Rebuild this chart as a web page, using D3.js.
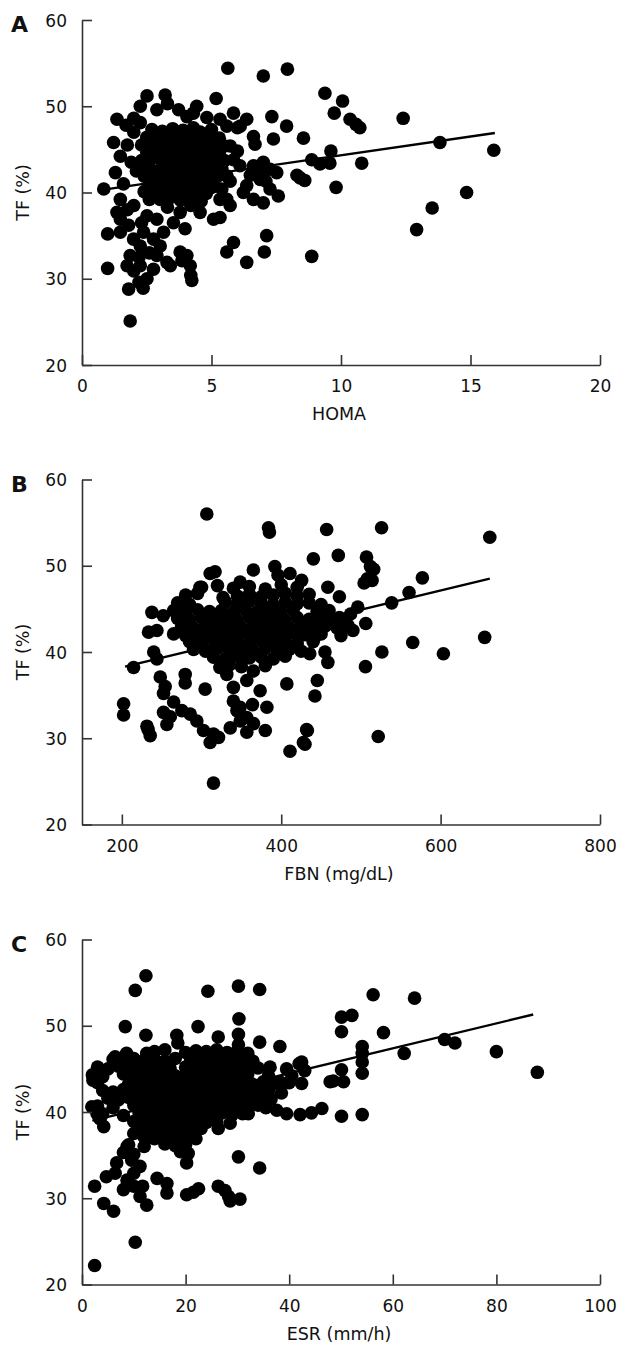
<!DOCTYPE html>
<html>
<head>
<meta charset="utf-8">
<script src="https://cdn.jsdelivr.net/npm/d3@7"></script>
<style>
  html, body { margin: 0; padding: 0; background: #fff; }
  svg text { font-family: "DejaVu Sans", Verdana, sans-serif; fill: #111; }
</style>
</head>
<body>
<script>
// ---------------- DATA ----------------
const panelLetters = ["A", "B", "C"];
const xTitles = ["HOMA", "FBN (mg/dL)", "ESR (mm/h)"];
const yTitle = "TF (%)";
const yTicks = [20, 30, 40, 50, 60];
const xDomainA = [0, 20], xTicksA = [0, 5, 10, 15, 20];
const xDomainB = [150, 800], xTicksB = [200, 400, 600, 800];
const xDomainC = [0, 100], xTicksC = [0, 20, 40, 60, 80, 100];

// Panel A: HOMA vs TF (%)
const pointsA = [
  [5.63,54.4],[7.0,53.5],[7.93,54.3],[5.18,50.9],[0.84,40.4],[0.99,35.2],[0.99,31.2],[1.86,25.1],[1.8,28.8],[2.36,28.9],
  [4.24,29.8],[4.2,30.4],[3.98,32.7],[5.59,33.1],[5.85,34.2],[6.36,31.9],[7.04,33.1],[7.13,35.0],[8.87,32.6],[8.55,46.3],
  [7.33,48.8],[7.9,47.7],[7.39,46.2],[6.62,46.5],[6.68,45.6],[8.42,41.7],[8.3,42.0],[8.87,43.8],[7.58,39.6],[7.0,38.8],
  [5.72,38.5],[5.59,39.2],[5.08,36.9],[5.33,37.1],[5.72,41.3],[5.85,49.2],[6.36,48.5],[6.0,47.5],
  [9.38,51.5],[10.06,50.6],[9.74,49.2],[10.35,48.5],[10.58,47.9],[10.73,47.5],[12.4,48.6],[9.61,44.8],[9.19,43.3],[9.57,43.4],
  [10.8,43.4],[13.82,45.8],[15.9,44.9],[9.81,40.6],[14.85,40.0],[13.52,38.2],[12.92,35.7],[8.6,41.4],
  [4.43,50.0],[4.3,49.2],[4.05,48.8],[2.51,51.2],[3.21,51.3],[2.89,49.6],[3.3,50.3],[3.73,49.6],[2.25,50.0],[1.35,48.5],
  [2.0,48.6],[1.7,47.8],[2.25,48.1],[2.0,47.0],[1.22,45.8],[1.29,42.3],[1.48,44.2],[1.75,45.5],[1.9,43.5],[2.1,42.5],
  [2.38,42.3],[1.6,41.0],
  [4.82,48.7],[5.33,48.5],[5.59,47.7],[6.11,47.7],[5.0,47.3],[4.56,47.0],[5.72,45.4],[5.85,43.8],[6.1,43.1],[6.0,44.8],
  [4.56,37.7],[4.2,38.5],[3.79,37.7],[3.53,36.5],[3.98,35.8],[3.02,39.2],[3.3,38.3],
  [1.48,39.2],[1.35,37.7],[1.48,36.9],[1.8,36.2],[1.48,35.4],[1.99,34.6],[2.25,33.8],[1.86,32.7],[1.74,31.5],[2.0,30.9],
  [2.25,31.5],[2.51,30.0],[2.76,31.1],[2.89,32.7],[3.02,33.8],[3.28,31.9],[3.41,31.5],[3.15,35.4],[2.76,34.6],[2.38,35.4],
  [2.51,37.3],[2.89,36.9],[2.2,29.6],[2.0,38.5],[1.75,38.0],[2.3,36.5],[2.6,33.0],[2.2,32.5],
  [3.79,33.1],[4.05,32.7],[4.18,31.5],[3.86,32.1],
  [5.08,41.2],[5.33,39.2],[5.4,40.4],[6.62,43.1],[7.0,43.5],[7.26,42.7],[7.52,42.3],[6.88,41.5],[6.36,40.8],[6.23,40.0],
  [6.62,39.2],[7.26,40.4],[6.9,42.5],[7.1,41.3],[6.5,42.0],
  [2.7,47.3],[3.1,47.1],[3.5,47.4],[3.9,47.2],[4.3,47.5],
  [2.5,46.4],[2.9,46.6],[3.3,46.3],[3.7,46.5],[4.1,46.4],[4.5,46.2],[4.9,46.5],[5.3,46.3],
  [2.3,45.5],[2.7,45.3],[3.1,45.6],[3.5,45.4],[3.9,45.6],[4.3,45.5],[4.7,45.3],[5.1,45.6],[5.5,45.4],
  [2.5,44.6],[2.9,44.4],[3.3,44.7],[3.7,44.5],[4.1,44.6],[4.5,44.8],[4.9,44.5],[5.3,44.6],
  [2.3,43.7],[2.7,43.9],[3.1,43.6],[3.5,43.8],[3.9,43.7],[4.3,43.5],[4.7,43.8],[5.1,43.6],[5.5,43.7],
  [2.6,42.8],[3.0,42.6],[3.4,42.9],[3.8,42.7],[4.2,42.8],[4.6,42.6],[5.0,42.9],[5.4,42.7],
  [2.4,41.9],[2.8,41.7],[3.2,42.0],[3.6,41.8],[4.0,41.9],[4.4,41.7],[4.8,42.0],[5.2,41.8],[5.6,41.9],
  [2.6,41.0],[3.0,40.8],[3.4,41.1],[3.8,40.9],[4.2,41.0],[4.6,40.8],[5.0,40.6],
  [2.4,40.1],[2.8,40.3],[3.2,39.9],[3.6,40.2],[4.0,40.0],[4.4,40.2],[4.8,39.9],
  [2.6,39.2],[3.4,39.4],[3.8,39.1],[4.2,39.3],[4.6,39.0]
];
const fitA = [[0.84, 40.33], [15.94, 46.9]];

// Panel B: FBN (mg/dL) vs TF (%)
const pointsB = [
  [306.6,56.0],[385.2,53.9],[384,54.4],[214.7,38.2],[202.2,34.0],[202.2,32.7],[231.5,31.4],[235.6,30.3],[233,31.0],[315,24.8],
  [411,28.5],[427.8,29.5],[432.8,30.9],[407,36.3],[382,33.6],[380,30.9],[356.8,30.7],[336,31.2],
  [315,30.5],[310.8,29.5],[321.3,30.1],[302.5,30.9],[294.1,32.0],[285.8,32.8],[275.3,33.2],
  [252.3,33.0],[256.5,31.6],[260.8,32.5],[265,34.2],[248.2,37.1],[254.4,36.0],[252.3,35.2],[279.5,37.4],[279.5,36.4],[304.5,35.7],
  [237.7,44.6],[233.5,42.3],[244,42.5],[240,40.0],[244,39.2],[252,44.2],[268.7,45.0],[275,45.5],[298,47.5],[310.8,49.1],
  [317,49.3],[327,46.3],[348.4,48.1],[365,49.5],[392,49.9],[396,48.9],[411,49.1],[425.6,48.3],
  [356.8,36.7],[373.5,35.5],[344.4,33.2],[348.5,32.0],[365.2,31.7],
  [323,38.2],[331.7,37.4],[340,35.9],[340,34.3],[348.4,33.6],[356.8,32.4],[363.9,33.9],[365,37.8],
  [457.0,54.2],[525.9,54.4],[661.7,53.3],[440.3,50.8],[471.6,51.2],[507,51.0],[512,49.9],[516,49.6],[508,48.5],[514,48.3],
  [504,48.0],[577.1,48.6],[560.4,46.9],[538.6,45.7],[496,45.2],[458.5,47.5],[473,46.4],[473,44.0],[483.7,43.1],[464.4,43.3],
  [506.1,43.3],[442,41.7],[435.8,39.8],[454.9,40.0],[458.5,38.8],[505.7,38.3],[526.3,40.0],[565.0,41.1],[603.5,39.8],[655.3,41.7],
  [445.3,36.7],[442.3,34.9],[431.9,31.0],[429.8,29.3],[521.7,30.2],[487,44.4],[490,42.5],
  [300,47.5],[320,47.7],[340,47.4],[360,47.6],[380,47.3],[400,47.8],[420,47.5],
  [280,46.6],[295,46.8],[345,46.5],[360,46.7],[375,46.4],[390,46.6],[405,46.8],[420,46.5],[435,46.7],
  [270,45.7],[285,45.5],[330,45.8],[345,45.6],[360,45.9],[375,45.7],[390,45.5],[405,45.8],[420,45.6],[435,45.7],[450,45.5],
  [265,44.8],[280,44.6],[295,44.9],[310,44.7],[325,44.8],[340,44.6],[355,44.9],[370,44.7],[385,44.8],[400,44.6],[415,44.9],[445,44.7],[460,44.8],
  [270,43.9],[285,43.7],[300,44.0],[315,43.8],[330,43.9],[345,43.7],[360,44.0],[375,43.8],[390,43.9],[405,43.7],[420,44.0],[435,43.8],[450,43.9],[465,43.7],
  [275,43.0],[290,42.8],[305,43.1],[320,42.9],[335,43.0],[350,42.8],[365,43.1],[380,42.9],[395,43.0],[410,42.8],[425,43.1],[440,42.9],[455,43.0],[470,42.8],
  [265,42.1],[280,41.9],[295,42.2],[310,42.0],[325,42.1],[340,41.9],[355,42.2],[370,42.0],[385,42.1],[400,41.9],[415,42.2],[430,42.0],[450,42.1],[475,41.9],
  [285,41.2],[300,41.0],[315,41.3],[330,41.1],[345,41.2],[360,41.0],[375,41.3],[390,41.1],[405,41.2],[420,41.0],[440,41.2],
  [290,40.3],[305,40.1],[320,40.4],[335,40.2],[350,40.3],[365,40.1],[380,40.4],[395,40.2],[410,40.3],[425,40.1],
  [315,39.4],[330,39.2],[345,39.5],[360,39.3],[375,39.4],[390,39.2],[405,39.5],
  [335,38.5],[350,38.3],[380,38.4]
];
const fitB = [[204, 38.3], [661.7, 48.5]];

// Panel C: ESR (mm/h) vs TF (%)
const pointsC = [
  [2.44,22.2],[10.28,24.9],[12.34,55.8],[10.28,54.1],[24.3,54.0],[30.2,54.6],[34.3,54.2],[8.35,49.9],[12.34,48.9],[22.4,49.9],
  [18.3,48.9],[18.5,48.0],[26.3,48.7],[30.3,50.8],[30.2,49.0],[30.2,47.8],[34.3,48.1],[38.2,47.6],[30.2,34.8],[34.3,33.5],
  [2.44,31.4],[4.2,29.4],[6.1,28.5],[4.7,32.5],[6.4,32.9],[10.0,31.4],[11.2,30.2],[12.5,29.2],[11.7,31.4],[14.5,32.3],
  [16.4,30.6],[16.4,31.7],[8.7,32.1],[8.0,31.0],[10.0,32.9],[11.2,33.7],[9.6,34.4],
  [20.2,30.4],[22.5,31.1],[21.5,30.7],[26.3,31.4],[28.6,29.7],[28.3,30.2],[30.5,29.9],[27.6,30.9],
  [20.2,34.1],[20.5,35.2],[6.7,34.1],[8.7,36.0],[10.0,37.5],[11.2,38.7],[13.2,37.1],[14.5,39.1],[16.4,38.3],
  [26.3,38.1],[28.6,38.7],[2.1,43.7],[1.9,40.6],[2.9,39.8],[4.2,38.3],[3.5,39.2],[6.4,46.4],[8.6,46.8],[12.5,46.8],
  [37.6,40.2],[39.5,39.8],[42.1,39.7],[44.3,39.9],[32.1,39.8],[38.2,43.5],[41.9,45.6],[39.5,45.0],[36.3,45.2],
  [40.5,44.2],[43.0,44.8],[38.5,42.2],[36.5,41.5],[35.5,40.5],
  [56.2,53.6],[64.2,53.2],[50.1,51.0],[52.1,51.2],[50.1,49.3],[58.2,49.2],[54.1,47.6],[54.1,46.8],[54.1,45.8],[54.1,44.5],
  [50.1,44.9],[47.9,43.5],[50.5,43.5],[62.2,46.8],[70.0,48.4],[72.0,48.0],[80.0,47.0],[87.9,44.6],[50.1,39.5],[54.1,39.7],
  [46.3,40.4],[42.4,45.8],[42.4,43.3],[48.5,43.6],
  [14,47.0],[16,47.2],[20,46.9],[22,47.1],[24,47.0],[26,47.2],[28,46.9],[30,47.1],[32,46.8],
  [6,46.1],[8,45.9],[10,46.2],[12,46.0],[14,46.1],[16,45.9],[18,46.2],[21,46.0],[23,46.1],[25,45.9],[27,46.2],[29,46.0],[31,46.1],[33,45.9],
  [3,45.2],[5,45.0],[7,45.3],[9,45.1],[11,45.2],[13,45.0],[15,45.3],[17,45.1],[20,45.2],[22,45.0],[24,45.3],[26,45.1],[28,45.2],[30,45.0],[32,45.3],[34,45.1],
  [2,44.3],[4,44.1],[8,44.4],[10,44.2],[12,44.3],[14,44.1],[16,44.4],[18,44.2],[20,44.3],[22,44.1],[24,44.4],[26,44.2],[28,44.3],[30,44.1],[32,44.4],[36,44.2],
  [3,43.4],[9,43.2],[11,43.5],[13,43.3],[15,43.4],[17,43.2],[19,43.5],[21,43.3],[23,43.4],[25,43.2],[27,43.5],[29,43.3],[31,43.4],[33,43.2],[35,43.5],[37,43.3],[40,43.4],
  [4,42.5],[6,42.3],[8,42.6],[10,42.4],[12,42.5],[14,42.3],[16,42.6],[18,42.4],[20,42.5],[22,42.3],[24,42.6],[26,42.4],[28,42.5],[30,42.3],[32,42.6],[34,42.4],[36,42.5],
  [5,41.6],[7,41.4],[9,41.7],[11,41.5],[13,41.6],[15,41.4],[17,41.7],[19,41.5],[21,41.6],[23,41.4],[25,41.7],[27,41.5],[29,41.6],[31,41.4],[33,41.7],[35,41.5],
  [3,40.7],[6,40.5],[10,40.8],[12,40.6],[14,40.7],[16,40.5],[18,40.8],[20,40.6],[22,40.7],[24,40.5],[26,40.8],[28,40.6],[30,40.7],[32,40.5],[34,40.8],
  [4,39.8],[8,39.6],[11,39.9],[13,39.7],[15,39.8],[17,39.6],[19,39.9],[21,39.7],[23,39.8],[25,39.6],[27,39.9],[29,39.7],[31,39.8],
  [10,38.9],[12,38.7],[14,39.0],[16,38.8],[18,38.9],[20,38.7],[22,39.0],[24,38.8],[26,38.9],
  [11,38.0],[13,37.8],[15,38.1],[17,37.9],[19,38.0],[21,37.8],[23,38.1],
  [12,37.1],[14,36.9],[16,37.2],[18,37.0],[20,37.1],[22,36.9],
  [9,36.2],[12,36.0],[16,36.3],[18,36.1],[20,36.2],[8,35.3],[10,35.1],[19,35.4]
];
const fitC = [[2.0, 39.0], [87.1, 51.3]];

// ---------------- LAYOUT ----------------
const W = 630, H = 1357;
const plotLeft = 82, plotRight = 600, plotH = 345;
const panelTops = [20, 479.5, 939.5];
const dotR = 6.8;

const panels = [
  { letter: panelLetters[0], title: xTitles[0], domain: xDomainA, ticks: xTicksA, points: pointsA, fit: fitA },
  { letter: panelLetters[1], title: xTitles[1], domain: xDomainB, ticks: xTicksB, points: pointsB, fit: fitB },
  { letter: panelLetters[2], title: xTitles[2], domain: xDomainC, ticks: xTicksC, points: pointsC, fit: fitC }
];

const svg = d3.select("body").append("svg")
  .attr("width", W).attr("height", H)
  .attr("viewBox", `0 0 ${W} ${H}`);

panels.forEach((p, i) => {
  const top = panelTops[i];
  const x = d3.scaleLinear().domain(p.domain).range([plotLeft, plotRight]);
  const y = d3.scaleLinear().domain([20, 60]).range([top + plotH, top]);

  const g = svg.append("g");

  // points
  g.append("g").selectAll("circle").data(p.points).join("circle")
    .attr("cx", d => x(d[0])).attr("cy", d => y(d[1]))
    .attr("r", dotR).attr("fill", "#000");

  // regression line
  g.append("path")
    .attr("d", d3.line().x(d => x(d[0])).y(d => y(d[1]))(p.fit))
    .attr("stroke", "#000").attr("stroke-width", 2.4).attr("fill", "none");

  // x axis
  const xAxis = g.append("g")
    .attr("transform", `translate(0,${top + plotH})`)
    .call(d3.axisBottom(x).tickValues(p.ticks).tickFormat(d3.format("d"))
      .tickSize(-10).tickSizeOuter(0).tickPadding(15));
  // y axis
  const yAxis = g.append("g")
    .attr("transform", `translate(${plotLeft},0)`)
    .call(d3.axisLeft(y).tickValues(yTicks).tickFormat(d3.format("d"))
      .tickSize(-10).tickSizeOuter(0).tickPadding(15));

  [xAxis, yAxis].forEach(a => {
    a.select(".domain").attr("stroke", "#333").attr("stroke-width", 1.6);
    a.selectAll(".tick line").attr("stroke", "#333").attr("stroke-width", 1.6);
    a.selectAll(".tick text").attr("font-size", 17).attr("fill", "#111")
      .attr("font-family", '"DejaVu Sans", Verdana, sans-serif');
  });
  xAxis.selectAll(".tick text").attr("dy", "0.72em");
  yAxis.selectAll(".tick text").attr("dy", "0.36em");

  // x title
  g.append("text")
    .attr("x", (plotLeft + plotRight) / 2 - 2).attr("y", top + plotH + 49)
    .attr("text-anchor", "middle").attr("dominant-baseline", "central")
    .attr("font-size", 17.5).text(p.title);

  // y title
  g.append("text")
    .attr("transform", `translate(23,${top + plotH / 2}) rotate(-90)`)
    .attr("text-anchor", "middle").attr("dominant-baseline", "central")
    .attr("font-size", 17.5).text(yTitle);

  // panel letter
  g.append("text")
    .attr("x", 11).attr("y", top + 12)
    .attr("font-size", 22).attr("font-weight", "bold")
    .text(p.letter);
});
</script>
</body>
</html>
